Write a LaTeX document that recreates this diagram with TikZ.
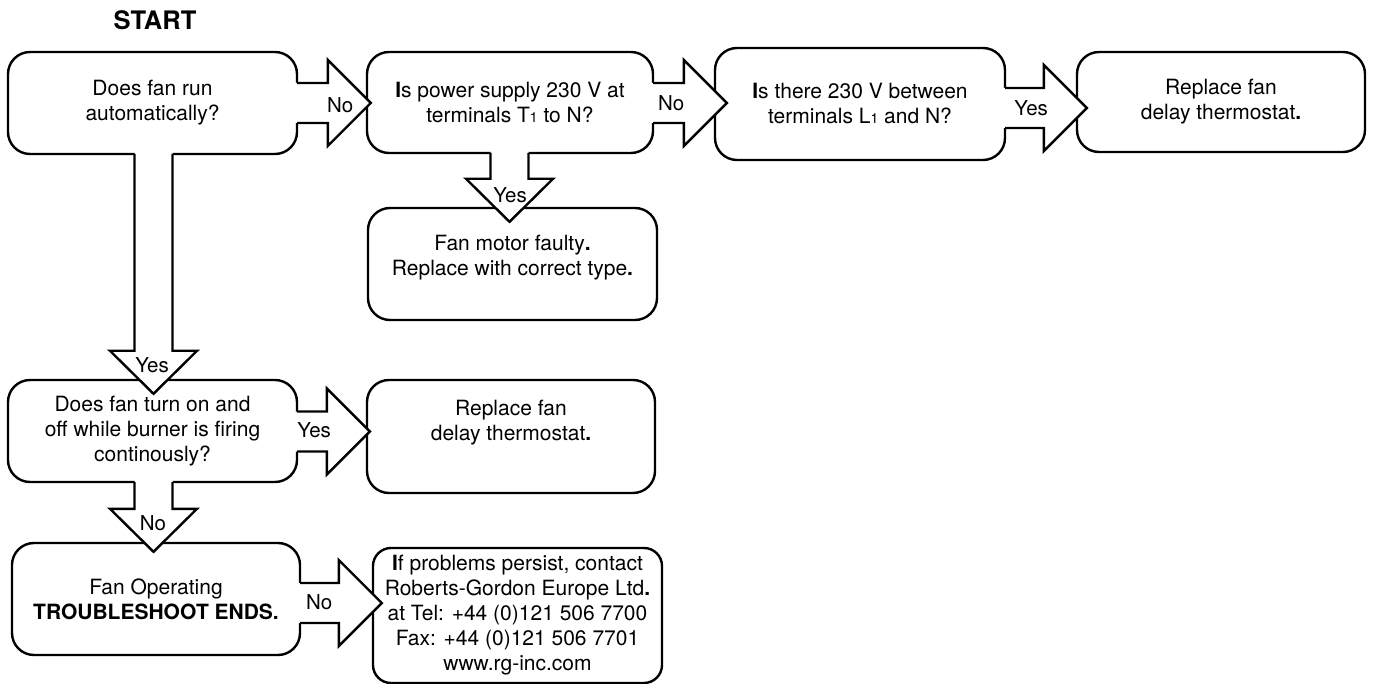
\documentclass[tikz,border=0pt]{standalone}
\usepackage{fontspec}
\setmainfont{TeX Gyre Heros}
\usetikzlibrary{calc}
\newcommand\rgbody{\fontsize{21}{25}\selectfont}
\newcommand\rglbl{\fontsize{20.5}{23}\selectfont}
\newcommand\rgsub{\fontsize{14}{14}\selectfont}
\tikzset{
  box/.style={draw=black, line width=2.4pt, rounded corners=22pt, fill=white,
    align=center, inner sep=0pt, font=\rgbody},
  txt/.style={align=center, inner sep=0pt, font=\rgbody},
  lbl/.style={inner sep=0pt, font=\rglbl},
  barrow/.style={draw=black, line width=2.4pt, line join=miter},
}
% right block arrow: #1 src, #2 dst, #3 dy, #4 tip overlap, #5 label dx, #6 label dy, #7 label
\newcommand\rgR[7]{%
  \coordinate (s) at ($(#1.east)+(0,#3)$);
  \coordinate (t) at ($(#2.west |- s)+(#4,0)$);
  \coordinate (h) at ($(t)+(-43,0)$);
  \fill[white] ($(s)+(-4,-20)$) -- ($(h)+(0,-20)$) -- ($(h)+(0,-43)$) -- (t)
     -- ($(h)+(0,43)$) -- ($(h)+(0,20)$) -- ($(s)+(-4,20)$) -- cycle;
  \draw[barrow] ($(s)+(-1.2,-20)$) -- ($(h)+(0,-20)$) -- ($(h)+(0,-43)$) -- (t)
     -- ($(h)+(0,43)$) -- ($(h)+(0,20)$) -- ($(s)+(-1.2,20)$);
  \node[lbl] (l#1#2) at ($(s)+(#5,#6)$) {#7};
}
% down block arrow: #1 src, #2 dst, #3 dx, #4 tip overlap, #5 label dy, #6 label dx, #7 label
\newcommand\rgD[7]{%
  \coordinate (s) at ($(#1.south)+(#3,0)$);
  \coordinate (t) at ($(s |- #2.north)+(0,#4)$);
  \coordinate (h) at ($(t)+(0,-43)$);
  \fill[white] ($(s)+(-19,-4)$) -- ($(h)+(-19,0)$) -- ($(h)+(-43.5,0)$) -- (t)
     -- ($(h)+(43.5,0)$) -- ($(h)+(19,0)$) -- ($(s)+(19,-4)$) -- cycle;
  \draw[barrow] ($(s)+(-19,-1.2)$) -- ($(h)+(-19,0)$) -- ($(h)+(-43.5,0)$) -- (t)
     -- ($(h)+(43.5,0)$) -- ($(h)+(19,0)$) -- ($(s)+(19,-1.2)$);
  \node[lbl] (l#1#2) at ($(s)+(#6,#5)$) {#7};
}
\begin{document}
\begin{tikzpicture}[x=1pt,y=-1pt]
\useasboundingbox (0,0) rectangle (1373,684);
\fill[white] (0,0) rectangle (1373,684);

\node[font=\bfseries\fontsize{25.5}{28}\selectfont, inner sep=0pt] (start) at (155,20) {START};

\node[box, minimum width=289, minimum height=102] (A) at (152.5,103)
  {Does fan run\\automatically?};
\node[box, minimum width=286, minimum height=101] (B) at (510,102.5)
  {\textbf{I}s power supply 230 V at\\terminals T{\rgsub 1} to N?};
\node[box, minimum width=290, minimum height=112] (C) at (860,104)
  {\textbf{I}s there 230 V between\\terminals L{\rgsub 1} and N?};
\node[box, minimum width=288, minimum height=100] (D) at (1221,102)
  {Replace fan\\delay thermostat\textbf{.}};
\node[box, minimum width=289, minimum height=112] (E) at (512.5,264) {};
\node[txt] (Et) at ($(E.center)+(0,-6)$)
  {Fan motor faulty\textbf{.}\\Replace with correct type\textbf{.}};
\node[box, minimum width=289, minimum height=102] (F) at (152.5,431)
  {Does fan turn on and\\off while burner is firing\\continously?};
\node[box, minimum width=288, minimum height=113] (G) at (511,436.5) {};
\node[txt] (Gt) at ($(G.center)+(0,-14)$)
  {Replace fan\\delay thermostat\textbf{.}};
\node[box, minimum width=288, minimum height=112] (H) at (156,599)
  {Fan Operating\\\textbf{TROUBLESHOOT ENDS.}};
\node[box, rounded corners=18pt, minimum width=289, minimum height=135] (I) at (517.5,615.5)
  {\textbf{I}f problems persist, contact\\Roberts-Gordon Europe Ltd\textbf{.}\\at Tel: +44 (0)121 506 7700\\Fax: +44 (0)121 506 7701\\www.rg-inc.com};

\rgR{A}{B}{0}{5}{42}{2}{No}
\rgR{B}{C}{0.5}{13}{17}{0}{No}
\rgR{C}{D}{4}{11}{25}{0}{Yes}
\rgR{F}{G}{0.5}{4}{16}{-1}{Yes}
\rgR{H}{I}{4}{10}{18}{-1}{No}
\rgD{A}{F}{1}{15}{210}{-1.5}{Yes}
\rgD{B}{E}{-0.5}{15}{41}{0.5}{Yes}
\rgD{F}{H}{1}{10}{40}{-0.5}{No}
\end{tikzpicture}
\end{document}
